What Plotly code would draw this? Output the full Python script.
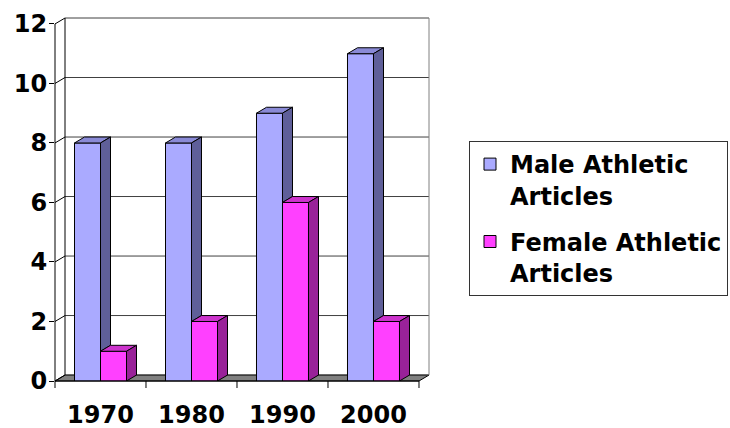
import plotly.graph_objects as go

# ---- data ----
categories = ["1970", "1980", "1990", "2000"]
male_values = [8, 8, 9, 11]
female_values = [1, 2, 6, 2]
y_tick_values = [0, 2, 4, 6, 8, 10, 12]
series_names = ["Male Athletic<br>Articles", "Female Athletic<br>Articles"]

# ---- style ----
MALE_FRONT, MALE_TOP, MALE_SIDE = "#AAAAFF", "#8A8AD6", "#5F5F99"
FEM_FRONT, FEM_TOP, FEM_SIDE = "#FF40FF", "#CC33CC", "#992299"
FONT = "DejaVu Sans"

W = 26 / 91      # bar width (category units)
DX = 0.11        # depth offset x (category units)
DY = 0.2         # depth offset y (value units)
X0, X1 = -0.5, len(categories) - 0.5 + DX
Y0, Y1 = 0, max(y_tick_values) + DY
xs = list(range(len(categories)))
PLOT_H = 363


def px(x):
    return (x - X0) / (X1 - X0)


def py(y):
    return (y - Y0) / (Y1 - Y0)


def top_face(xl, xr, v):
    return [xl, xl + DX, xr + DX, xr, xl, None], [v, v + DY, v + DY, v, v, None]


def side_face(xr, lo, hi):
    return [xr, xr + DX, xr + DX, xr, xr, None], [lo, lo + DY, hi + DY, hi, lo, None]


fig = go.Figure()

fig.add_trace(go.Bar(x=xs, y=male_values, width=W, offset=-W, name=series_names[0],
                     legendgroup="m",
                     marker=dict(color=MALE_FRONT, line=dict(color="black", width=1)),
                     hoverinfo="skip"))
fig.add_trace(go.Bar(x=xs, y=female_values, width=W, offset=0, name=series_names[1],
                     legendgroup="f",
                     marker=dict(color=FEM_FRONT, line=dict(color="black", width=1)),
                     hoverinfo="skip"))

# 3-D faces built from the same values
mt_x, mt_y, ms_x, ms_y, ft_x, ft_y, fs_x, fs_y = [], [], [], [], [], [], [], []
for i, (m, f) in enumerate(zip(male_values, female_values)):
    a, b = top_face(i - W, i, m)
    mt_x += a; mt_y += b
    a, b = side_face(i, min(f, m), m)
    ms_x += a; ms_y += b
    a, b = top_face(i, i + W, f)
    ft_x += a; ft_y += b
    a, b = side_face(i + W, 0, f)
    fs_x += a; fs_y += b

for fx, fy, col in [(mt_x, mt_y, MALE_TOP), (ms_x, ms_y, MALE_SIDE),
                    (ft_x, ft_y, FEM_TOP), (fs_x, fs_y, FEM_SIDE)]:
    fig.add_trace(go.Scatter(x=fx, y=fy, mode="lines", fill="toself", fillcolor=col,
                             line=dict(color="black", width=1), showlegend=False,
                             hoverinfo="skip"))

shapes = []
xa, xb = X0, len(categories) - 0.5
# floor
shapes.append(dict(type="path", xref="paper", yref="paper", layer="below",
                   path=f"M{px(xa)},{py(0)} L{px(xb)},{py(0)} L{px(xb+DX)},{py(DY)} L{px(xa+DX)},{py(DY)} Z",
                   fillcolor="#808080", line=dict(color="black", width=1)))
# back wall gridlines and side-wall diagonals
for v in y_tick_values:
    shapes.append(dict(type="line", xref="paper", yref="paper", layer="below",
                       x0=px(xa + DX), x1=px(xb + DX), y0=py(v + DY), y1=py(v + DY),
                       line=dict(color="#404040", width=1)))
    shapes.append(dict(type="line", xref="paper", yref="paper", layer="below",
                       x0=px(xa), x1=px(xa + DX), y0=py(v), y1=py(v + DY),
                       line=dict(color="black", width=1)))
# back wall edges
shapes.append(dict(type="line", xref="paper", yref="paper", layer="below",
                   x0=px(xa + DX), x1=px(xa + DX), y0=py(DY), y1=py(max(y_tick_values) + DY),
                   line=dict(color="black", width=1)))
shapes.append(dict(type="line", xref="paper", yref="paper", layer="below",
                   x0=px(xb + DX), x1=px(xb + DX), y0=py(DY), y1=py(max(y_tick_values) + DY),
                   line=dict(color="#808080", width=1)))
# front axes
shapes.append(dict(type="line", xref="paper", yref="paper", layer="above",
                   x0=px(xa), x1=px(xa), y0=py(0), y1=py(max(y_tick_values)),
                   line=dict(color="black", width=1)))
shapes.append(dict(type="line", xref="paper", yref="paper", layer="above",
                   x0=px(xa), x1=px(xb), y0=py(0), y1=py(0),
                   line=dict(color="black", width=1)))
for k in range(len(categories) + 1):
    b = xa + k
    shapes.append(dict(type="line", xref="paper", yref="paper", layer="above",
                       x0=px(b), x1=px(b), y0=0, y1=-7 / PLOT_H,
                       line=dict(color="black", width=1)))

fig.update_layout(
    width=730, height=428,
    margin=dict(l=55, r=301, t=18, b=47, autoexpand=False),
    paper_bgcolor="white", plot_bgcolor="rgba(0,0,0,0)",
    barmode="overlay",
    shapes=shapes,
    font=dict(family=FONT, size=24, color="black"),
    xaxis=dict(range=[X0, X1], tickmode="array", tickvals=xs, ticktext=categories,
               ticks="", showgrid=False, zeroline=False, showline=False,
               automargin=False, ticklabelstandoff=17,
               tickfont=dict(family=FONT, size=24, color="black", weight="bold")),
    yaxis=dict(range=[Y0, Y1], tickmode="array", tickvals=y_tick_values,
               ticks="outside", ticklen=5, tickcolor="black", tickwidth=1,
               showgrid=False, zeroline=False, showline=False,
               automargin=False, ticklabelstandoff=-3,
               tickfont=dict(family=FONT, size=24, color="black", weight="bold")),
    legend=dict(x=(469 - 55) / 374, y=(381 - 141) / 363, xanchor="left", yanchor="top",
                bgcolor="white", bordercolor="#333333", borderwidth=1, valign="top",
                tracegroupgap=12,
                font=dict(family=FONT, size=24, color="black", weight="bold")),
    showlegend=True,
)

fig.write_html("out.html", config={"displayModeBar": False},
               post_script="document.body.style.margin='0';")
